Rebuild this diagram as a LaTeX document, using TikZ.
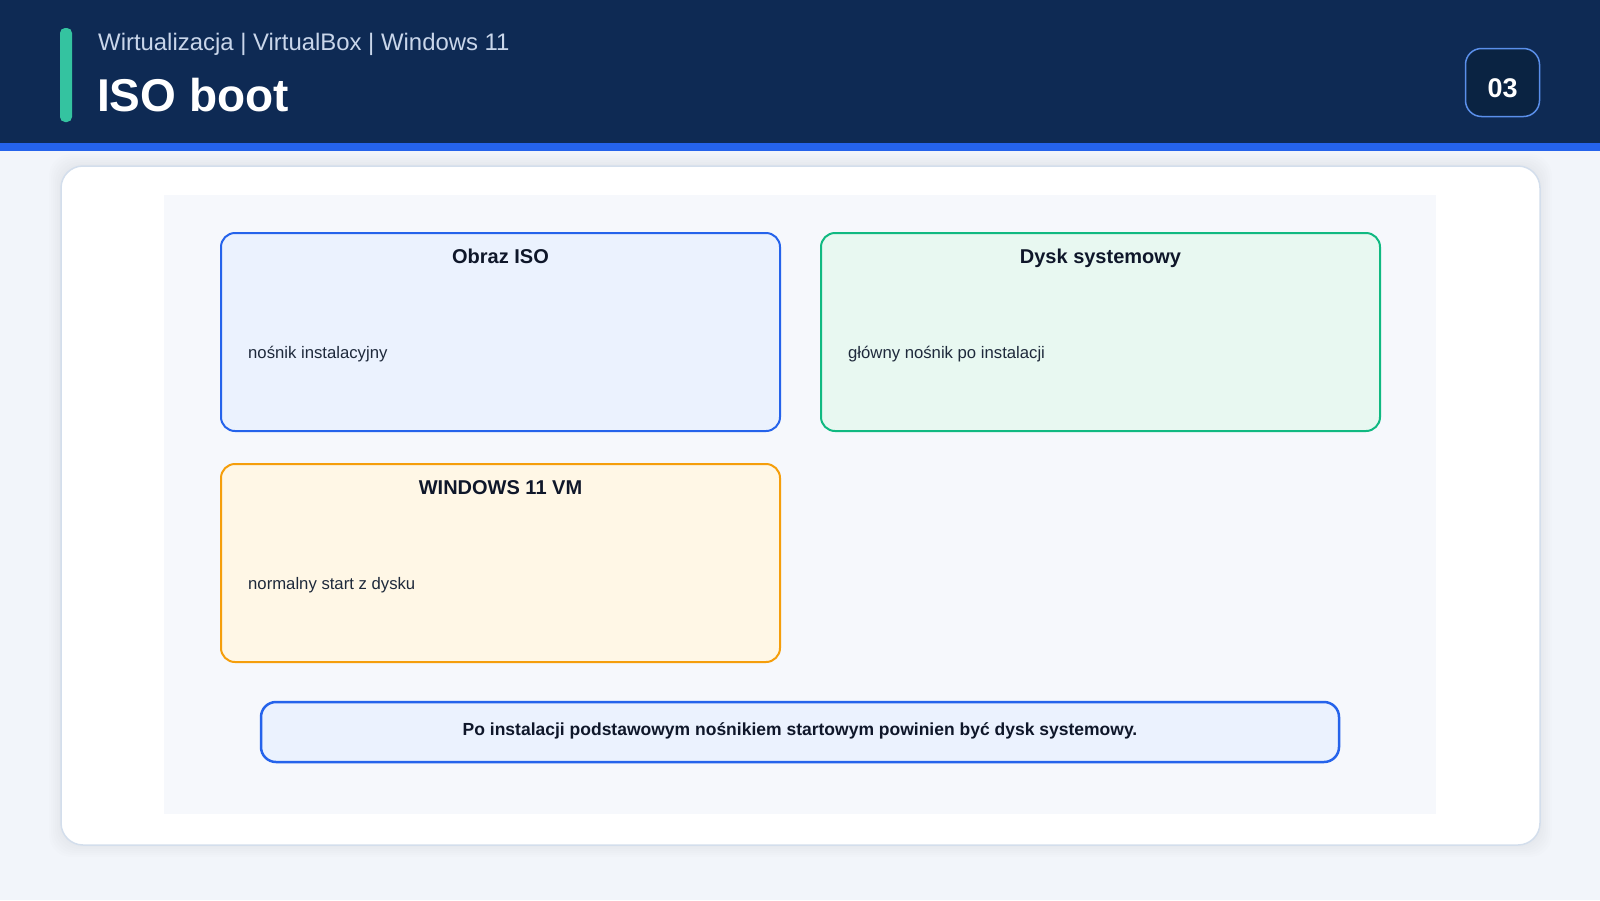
\documentclass[tikz,border=0pt]{standalone}
\usepackage{fontspec}
\setmainfont{Liberation Sans}
\usetikzlibrary{positioning}
\definecolor{pagebg}{HTML}{F2F5FA}
\definecolor{headbg}{HTML}{0E2A54}
\definecolor{headstrip}{HTML}{2563EB}
\definecolor{accentbar}{HTML}{34C3A0}
\definecolor{subtext}{HTML}{C9D6EA}
\definecolor{badgebg}{HTML}{0A2342}
\definecolor{badgeline}{HTML}{5A8FEA}
\definecolor{cardline}{HTML}{D3DEEC}
\definecolor{panelbg}{HTML}{F6F8FC}
\definecolor{isofill}{HTML}{EBF2FE}
\definecolor{isoline}{HTML}{2563EB}
\definecolor{diskfill}{HTML}{E8F8F1}
\definecolor{diskline}{HTML}{10B981}
\definecolor{vmfill}{HTML}{FFF7E6}
\definecolor{vmline}{HTML}{F59E0B}
\definecolor{ink}{HTML}{0F172A}
\definecolor{inksoft}{HTML}{1E293B}
\tikzset
{
    infobox/.style  = {rectangle, rounded corners=14pt, line width=2pt, minimum width=559pt, minimum height=198pt, anchor=north west, inner sep=0pt},
    boxtitle/.style = {font=\bfseries\fontsize{20}{24}\selectfont, text=ink, anchor=base, inner sep=0pt},
    boxtext/.style  = {font=\fontsize{16.7}{20}\selectfont, text=inksoft, anchor=base west, inner sep=0pt},
    badge/.style    = {rectangle, rounded corners=16pt, fill=badgebg, draw=badgeline, line width=1.5pt, minimum width=74pt, minimum height=68pt, inner sep=0pt},
    notebox/.style  = {rectangle, rounded corners=15pt, fill=isofill, draw=isoline, line width=2.5pt, minimum width=1078pt, minimum height=60pt, inner sep=0pt},
    card/.style     = {rounded corners=22pt, fill=white, draw=cardline, line width=1.5pt}
}

\begin{document}
\begin{tikzpicture}[x=1pt, y=-1pt]

	 \newcommand\BOXDX{600}
	 \newcommand\BOXDY{231}
	 \newcommand\TITLEDY{31}
	 \newcommand\TEXTDX{28}
	 \newcommand\TEXTDY{126}

	 \useasboundingbox (0,0) rectangle (1600,900);
	 \fill[pagebg] (0,0) rectangle (1600,900);

	 % header
	 \fill[headbg] (0,0) rectangle (1600,143);
	 \fill[headstrip] (0,143) rectangle (1600,151);
	 \fill[accentbar, rounded corners=5pt] (60,28) rectangle (72,122);
	 \node (sub)   [anchor=base west, inner sep=0pt, text=subtext, font=\fontsize{23.9}{28}\selectfont] at (98,50) {Wirtualizacja | VirtualBox | Windows 11};
	 \node (title) [anchor=base west, inner sep=0pt, text=white, font=\bfseries\fontsize{46}{54}\selectfont] at (97,111) {ISO boot};
	 \node (num)   [badge] at (1502.5,82.5) {};
	 \node (numtxt) [anchor=base, inner sep=0pt, text=white, font=\bfseries\fontsize{27}{32}\selectfont] at ([shift={(0,14.5)}]num.center) {03};

	 % card with a soft shadow
	 \foreach \s in {2,4,...,12}
	    \fill[black, opacity=0.006, rounded corners=22pt] (61-\s,166-\s) rectangle (1540+\s,845+\s);
	 \draw[card] (61,166) rectangle (1540,845);
	 \fill[panelbg] (164,195) rectangle (1436,814);

	 % boxes
	 \node (iso)  [infobox, fill=isofill, draw=isoline]   at (220,232)                          {};
	 \node (disk) [infobox, fill=diskfill, draw=diskline] at ([shift={(\BOXDX,0)}]iso.north west) {};
	 \node (vm)   [infobox, fill=vmfill, draw=vmline]     at ([shift={(0,\BOXDY)}]iso.north west) {};

	 \node (isot)  [boxtitle] at ([shift={(0,\TITLEDY)}]iso.north)  {Obraz ISO};
	 \node (diskt) [boxtitle] at ([shift={(0,\TITLEDY)}]disk.north) {Dysk systemowy};
	 \node (vmt)   [boxtitle] at ([shift={(0,\TITLEDY)}]vm.north)   {WINDOWS 11 VM};

	 \node (isob)  [boxtext] at ([shift={(\TEXTDX,\TEXTDY)}]iso.north west)  {nośnik instalacyjny};
	 \node (diskb) [boxtext] at ([shift={(\TEXTDX,\TEXTDY)}]disk.north west) {główny nośnik po instalacji};
	 \node (vmb)   [boxtext] at ([shift={(\TEXTDX,\TEXTDY)}]vm.north west)   {normalny start z dysku};

	 % note
	 \node (note)    [notebox] at (800,732) {};
	 \node (notetxt) [anchor=base, inner sep=0pt, text=ink, font=\bfseries\fontsize{17.5}{21}\selectfont] at ([shift={(0,3)}]note.center) {Po instalacji podstawowym nośnikiem startowym powinien być dysk systemowy.};

\end{tikzpicture}
\end{document}
